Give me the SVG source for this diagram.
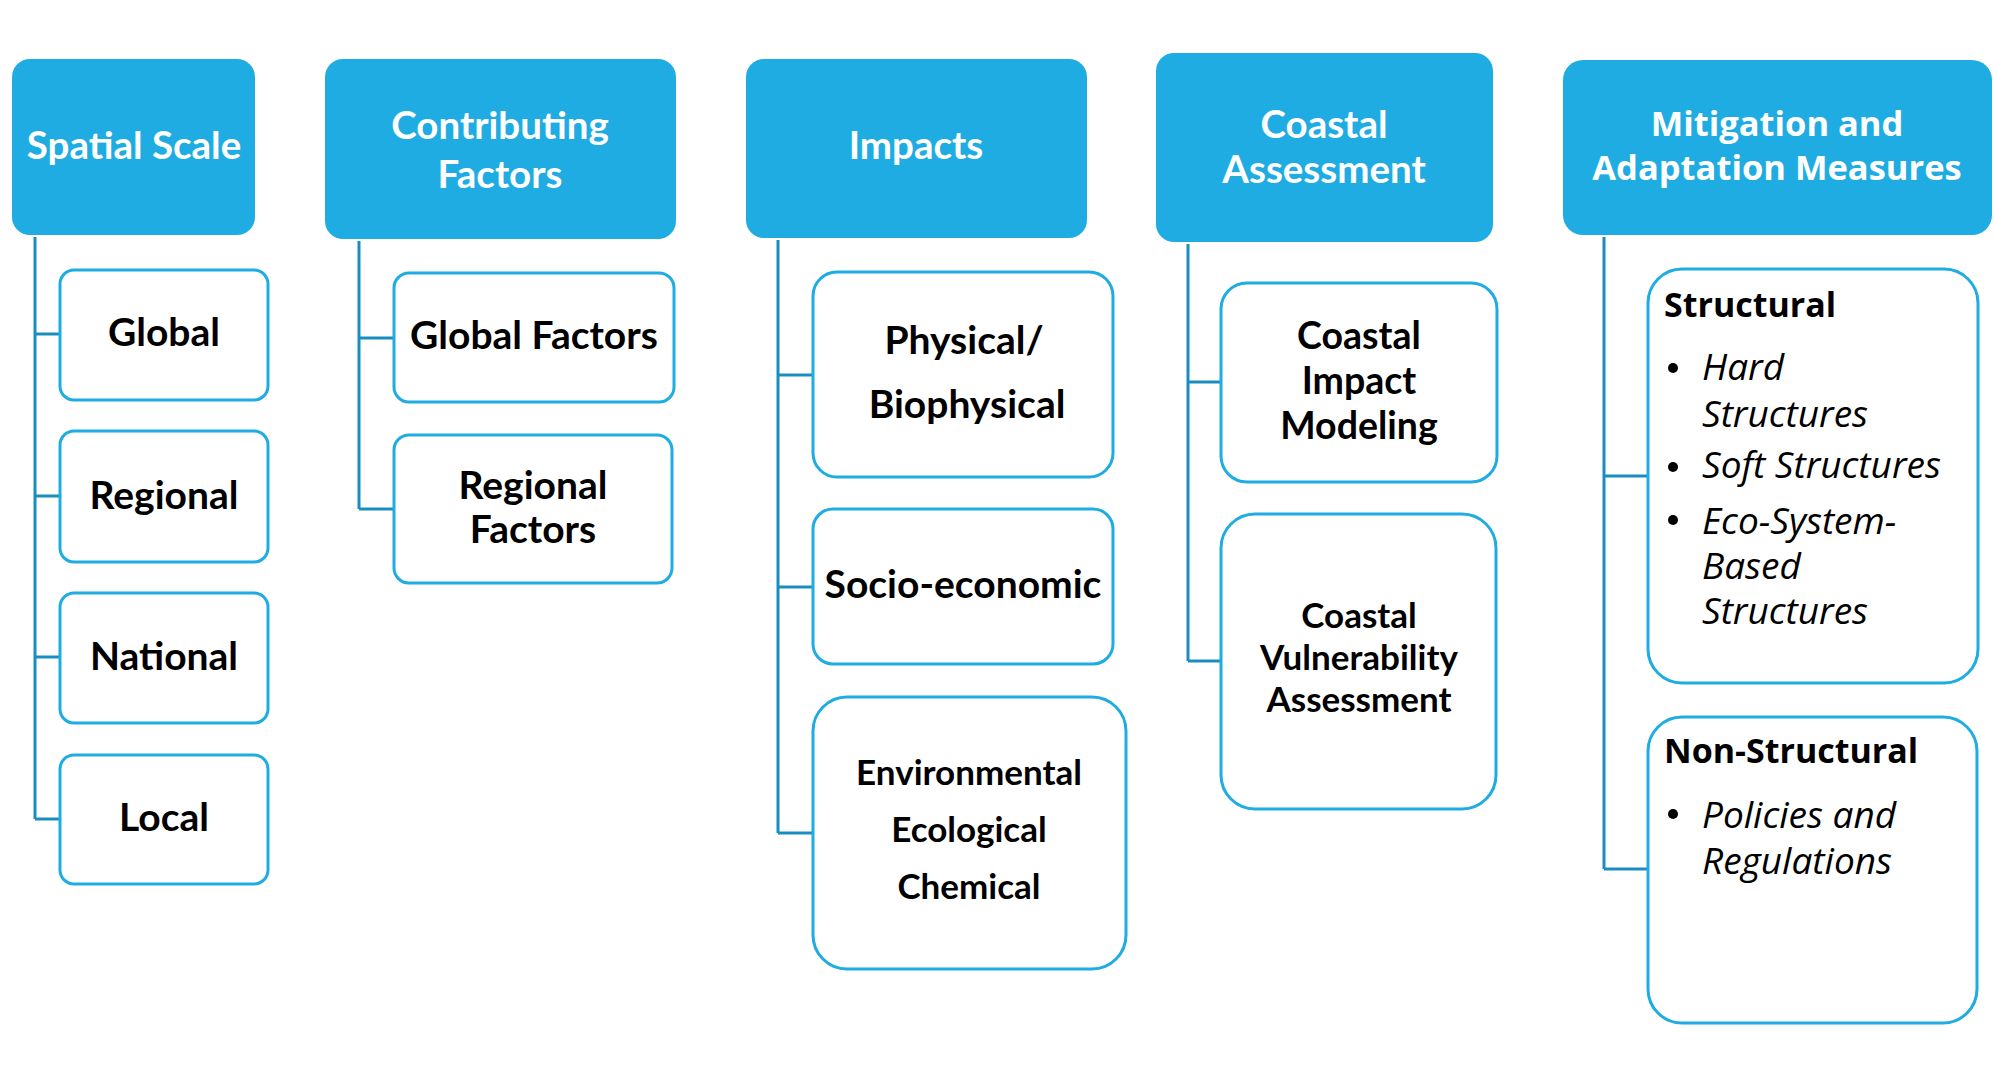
<svg xmlns="http://www.w3.org/2000/svg" width="1996" height="1078" viewBox="0 0 1996 1078">
<style>
.hdr{fill:#1FACE2;}
.node{fill:#FFFFFF;stroke:#1FACE2;stroke-width:3;}
.conn{fill:none;stroke:#1A8DC0;stroke-width:3;}
.ht{font-family:Lato,"Open Sans",sans-serif;font-weight:bold;font-size:38.5px;fill:#FFFFFF;text-anchor:middle;}
.nt{font-family:Lato,"Open Sans",sans-serif;font-weight:bold;font-size:39px;fill:#000000;text-anchor:middle;}
.ntm{font-family:Lato,"Open Sans",sans-serif;font-weight:bold;font-size:37.5px;fill:#000000;text-anchor:middle;}
.nts{font-family:Lato,"Open Sans",sans-serif;font-weight:bold;font-size:35px;fill:#000000;text-anchor:middle;}
.ht2{font-family:"Open Sans",sans-serif;font-weight:bold;font-size:34.5px;fill:#FFFFFF;text-anchor:middle;}
.st{font-family:"Open Sans",sans-serif;font-weight:bold;font-size:34px;fill:#000000;}
.it{font-family:"Open Sans",sans-serif;font-style:italic;font-size:37px;fill:#000000;}
</style>
<rect width="1996" height="1078" fill="#FFFFFF"/>
<g id="connectors">
<path class="conn" d="M35,237 V819 M35,334 H60 M35,496 H60 M35,657 H60 M35,819 H60"/>
<path class="conn" d="M359,241 V509 M359,338 H394 M359,509 H394"/>
<path class="conn" d="M778,240 V833 M778,375 H813 M778,587 H813 M778,833 H813"/>
<path class="conn" d="M1188,244 V661 M1188,382 H1221 M1188,661 H1221"/>
<path class="conn" d="M1604,237 V869 M1604,476 H1648 M1604,869 H1648"/>
</g>
<g id="h-spatial"><rect class="hdr" x="12" y="59" width="243" height="176" rx="18"/><text class="ht" x="134" y="159">Spatial Scale</text></g>
<g id="n-global"><rect class="node" x="60" y="270" width="208" height="130" rx="14"/><text class="nt" x="164" y="346">Global</text></g>
<g id="n-regional"><rect class="node" x="60" y="431" width="208" height="131" rx="14"/><text class="nt" x="164" y="509">Regional</text></g>
<g id="n-national"><rect class="node" x="60" y="593" width="208" height="130" rx="14"/><text class="nt" x="164" y="670">National</text></g>
<g id="n-local"><rect class="node" x="60" y="755" width="208" height="129" rx="14"/><text class="nt" x="164" y="831">Local</text></g>

<g id="h-contrib"><rect class="hdr" x="325" y="59" width="351" height="180" rx="18"/><text class="ht" x="500" y="139">Contributing</text><text class="ht" x="500" y="188">Factors</text></g>
<g id="n-globalf"><rect class="node" x="394" y="273" width="280" height="129" rx="15"/><text class="nt" x="534" y="349">Global Factors</text></g>
<g id="n-regionalf"><rect class="node" x="394" y="435" width="278" height="148" rx="15"/><text class="nt" x="533" y="499">Regional</text><text class="nt" x="533" y="543">Factors</text></g>

<g id="h-impacts"><rect class="hdr" x="746" y="59" width="341" height="179" rx="18"/><text class="ht" x="916" y="159">Impacts</text></g>
<g id="n-physical"><rect class="node" x="813" y="272" width="300" height="205" rx="24"/><text class="nt" x="964" y="354">Physical/</text><text class="nt" x="967" y="418">Biophysical</text></g>
<g id="n-socio"><rect class="node" x="813" y="509" width="300" height="155" rx="20"/><text class="nt" x="963" y="598">Socio-economic</text></g>
<g id="n-env"><rect class="node" x="813" y="697" width="313" height="272" rx="34"/><text class="nts" x="969" y="785">Environmental</text><text class="nts" x="969" y="842">Ecological</text><text class="nts" x="969" y="899">Chemical</text></g>

<g id="h-coastal"><rect class="hdr" x="1156" y="53" width="337" height="189" rx="18"/><text class="ht" x="1324" y="138">Coastal</text><text class="ht" x="1324" y="183">Assessment</text></g>
<g id="n-cim"><rect class="node" x="1221" y="283" width="276" height="199" rx="26"/><text class="ntm" x="1359" y="349">Coastal</text><text class="ntm" x="1359" y="394">Impact</text><text class="ntm" x="1359" y="439">Modeling</text></g>
<g id="n-cva"><rect class="node" x="1221" y="514" width="275" height="295" rx="34"/><text class="nts" x="1359" y="628">Coastal</text><text class="nts" x="1359" y="670">Vulnerability</text><text class="nts" x="1359" y="712">Assessment</text></g>

<g id="h-mitig"><rect class="hdr" x="1563" y="60" width="429" height="175" rx="20"/><text class="ht2" x="1777" y="136">Mitigation and</text><text class="ht2" x="1777" y="180">Adaptation Measures</text></g>
<g id="n-struct"><rect class="node" x="1648" y="269" width="330" height="414" rx="34"/>
<text class="st" x="1664" y="317">Structural</text>
<circle cx="1673" cy="368" r="5"/><text class="it" x="1702" y="380">Hard</text><text class="it" x="1702" y="427">Structures</text>
<circle cx="1673" cy="467" r="5"/><text class="it" x="1702" y="478">Soft Structures</text>
<circle cx="1673" cy="520" r="5"/><text class="it" x="1702" y="534">Eco-System-</text><text class="it" x="1702" y="579">Based</text><text class="it" x="1702" y="624">Structures</text>
</g>
<g id="n-nonstruct"><rect class="node" x="1648" y="717" width="329" height="306" rx="34"/>
<text class="st" x="1664" y="763">Non-Structural</text>
<circle cx="1673" cy="814" r="5"/><text class="it" x="1702" y="828">Policies and</text><text class="it" x="1702" y="874">Regulations</text>
</g>
</svg>
